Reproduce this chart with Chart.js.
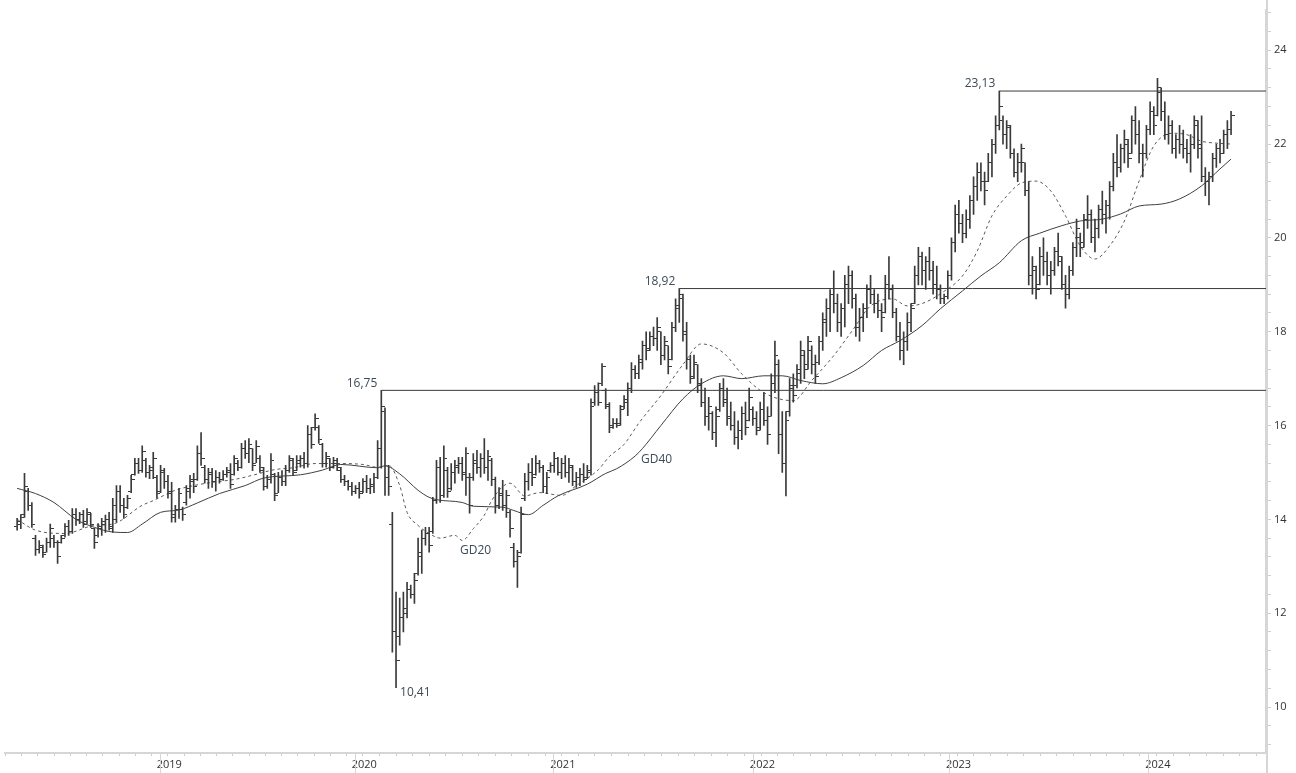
<!DOCTYPE html>
<html>
<head>
<meta charset="utf-8">
<script src="https://cdn.jsdelivr.net/npm/chart.js@4.4.1/dist/chart.umd.min.js"></script>
<style>
  html, body { margin: 0; padding: 0; background: #ffffff; }
  canvas { display: block; }
</style>
</head>
<body>
<canvas id="ohlcChart" width="1296" height="773"></canvas>
<script>
// weekly bars, index 0 = first week shown (spring 2018)
const highs = [
    14.02,14.1,14.98,14.66,14.36,13.66,13.55,13.45,13.6,13.9,13.66,13.55,13.66,13.91,13.98,14.23,14.23,14.15,14.19,14.23,14.13,13.81,13.91,14.02,14.09,14.15,14.45,
    14.72,14.72,14.45,14.51,14.94,15.3,15.3,15.57,15.3,15.15,15.43,14.94,15.15,15.09,14.94,14.79,14.3,14.66,14.26,14.72,14.94,14.98,15.57,15.85,15.15,15.09,15.09,15.04,
    15.0,15.04,15.11,15.19,15.36,15.26,15.62,15.68,15.72,15.51,15.68,15.36,15.11,14.94,15.4,14.98,15.0,15.04,15.15,15.36,15.3,15.36,15.36,15.43,16.0,15.96,16.25,16.0,
    15.62,15.43,15.3,15.32,15.3,15.11,14.94,14.83,14.79,14.72,14.79,14.87,14.94,14.87,14.98,15.68,16.75,16.38,15.15,14.15,12.45,12.32,12.45,12.66,12.6,12.85,13.6,13.77,
    13.83,13.83,14.47,15.26,15.32,15.57,15.11,15.19,15.26,15.32,15.32,15.53,14.98,15.4,15.47,15.4,15.72,15.47,15.3,14.9,14.68,14.83,14.62,14.19,13.49,13.34,14.26,14.98,15.19,
    15.3,15.36,15.26,15.15,15.0,15.21,15.43,15.32,15.3,15.36,15.3,15.15,15.0,15.09,15.19,15.15,16.57,16.85,16.91,17.32,16.79,16.49,16.15,16.15,16.43,16.64,16.91,17.34,17.28,
    17.5,17.8,18.0,18.0,18.1,18.3,18.0,17.9,17.7,18.2,
    18.7,18.92,18.8,18.2,17.5,17.5,17.3,17.0,16.8,16.6,
    16.3,16.4,16.9,17.0,16.8,16.5,16.3,16.1,16.4,16.5,
    16.8,16.4,16.3,16.5,16.7,16.4,17.1,17.8,17.4,16.3,
    16.3,17.0,17.1,17.3,17.8,17.6,17.9,17.7,17.5,17.9,
    18.4,18.7,18.9,19.3,18.8,18.6,19.2,19.4,19.3,18.8,
    18.5,18.6,19.0,19.2,18.9,18.8,18.6,19.2,19.6,19.0,
    18.5,18.2,18.0,18.4,18.6,19.4,19.8,19.7,19.6,19.8,
    19.5,19.4,19.0,18.8,19.3,20.0,20.7,20.8,20.5,20.6,
    20.9,21.3,21.6,21.6,21.4,21.8,22.1,22.6,23.13,22.6,
    22.5,22.4,21.9,21.8,22.0,21.6,21.2,19.6,19.4,19.8,
    20.0,19.7,19.5,19.8,20.1,19.6,19.2,19.4,19.9,20.4,
    20.1,20.5,20.9,20.6,20.4,20.7,21.0,20.8,21.2,21.8,
    22.2,22.0,22.3,22.1,22.6,22.8,22.5,22.0,22.4,22.9,
    22.8,23.4,23.2,22.9,22.6,22.5,22.2,22.4,22.3,22.1,
    22.2,22.6,22.5,22.6,21.5,21.4,21.8,22.0,22.1,22.3,
    22.5,22.7
];
const lows = [
    13.77,13.8,14.04,14.19,13.83,13.23,13.28,13.19,13.3,13.4,13.4,13.06,13.49,13.62,13.66,13.7,13.87,13.91,13.83,13.91,13.83,13.38,13.62,13.66,13.72,13.77,13.72,
    13.94,14.15,14.02,14.23,14.57,14.94,14.98,15.0,14.9,14.87,14.87,14.45,14.57,14.66,14.45,13.94,13.94,14.02,13.98,14.3,14.45,14.57,14.83,15.15,14.77,14.66,14.68,14.6,
    14.77,14.83,14.9,14.66,14.94,15.04,15.09,15.3,15.21,15.04,15.21,15.0,14.62,14.66,14.77,14.4,14.57,14.72,14.72,15.0,14.94,15.04,15.11,15.09,15.11,15.51,15.9,15.62,
    15.11,15.11,15.04,15.09,15.04,14.79,14.72,14.62,14.51,14.55,14.45,14.57,14.57,14.55,14.57,14.87,15.09,14.51,14.51,11.17,10.41,11.32,11.6,11.9,12.32,12.21,12.81,12.85,
    13.45,13.3,13.7,14.34,14.36,14.47,14.47,14.62,14.77,14.98,14.83,14.51,14.13,14.83,14.98,14.9,14.98,14.83,14.72,14.13,14.23,14.19,14.04,13.62,12.98,12.55,13.28,14.4,14.62,
    14.72,14.94,15.0,14.57,14.55,15.0,15.0,14.94,14.87,14.9,14.79,14.72,14.68,14.72,14.79,14.87,14.94,16.43,16.43,16.85,16.36,15.85,15.94,15.96,16.0,16.36,16.21,16.7,17.0,
    17.0,17.2,17.4,17.6,17.7,17.6,17.3,17.4,17.1,17.4,
    18.0,18.2,17.8,17.2,16.9,17.0,16.7,16.4,16.0,15.9,
    15.7,15.55,16.3,16.4,16.0,15.9,15.6,15.5,15.7,15.8,
    16.1,16.0,15.8,15.9,16.0,15.6,16.2,16.7,15.4,15.0,
    14.5,16.2,16.5,16.8,16.9,17.0,17.2,17.1,16.9,17.3,
    17.6,17.9,18.0,18.4,18.0,17.9,18.1,18.6,18.5,17.9,
    17.8,18.0,18.3,18.6,18.4,18.3,18.0,18.4,18.7,18.3,
    17.8,17.4,17.3,17.6,18.0,18.6,19.0,19.0,18.9,19.1,
    18.8,18.7,18.6,18.6,18.7,19.1,19.7,20.1,19.9,20.0,
    20.2,20.5,20.8,21.0,20.7,21.2,21.3,21.8,22.3,22.0,
    21.9,21.7,21.3,21.2,21.4,20.9,19.0,18.8,18.7,19.0,
    19.2,19.0,18.8,19.2,19.4,18.9,18.5,18.7,19.2,19.6,
    19.6,19.8,20.2,19.9,19.7,20.0,20.3,20.1,20.4,21.0,
    21.3,21.4,21.6,21.5,21.8,22.0,21.6,21.3,21.7,22.2,
    22.2,22.6,22.5,22.1,22.0,21.8,21.7,21.8,21.7,21.6,
    21.4,21.9,21.7,21.2,20.9,20.7,21.2,21.5,21.6,21.8,
    21.9,22.2
];
const opens = [
    13.85,13.9,14.1,14.6,14.3,13.6,13.35,13.4,13.3,13.5,13.6,13.5,13.5,13.65,13.85,13.75,14.1,14.0,14.1,13.95,14.1,13.8,13.65,13.8,13.9,14.0,13.8,
    14.0,14.6,14.3,14.25,14.6,14.95,15.2,15.05,15.25,15.0,15.05,14.9,14.6,15.0,14.8,14.6,14.05,14.2,14.2,14.35,14.6,14.8,14.85,15.4,15.1,14.85,14.95,14.8,
    14.9,14.85,14.95,15.0,14.95,15.2,15.1,15.5,15.4,15.5,15.2,15.3,15.05,14.7,14.85,14.95,14.55,14.9,14.8,15.05,15.25,15.05,15.2,15.3,15.2,15.8,15.95,15.95,
    15.6,15.2,15.3,15.1,15.2,15.05,14.85,14.8,14.7,14.6,14.65,14.6,14.8,14.65,14.7,14.9,15.5,16.3,14.9,13.9,11.6,11.5,11.9,12.1,12.5,12.4,12.85,13.2,
    13.6,13.7,13.75,14.4,15.1,14.5,15.05,14.65,15.0,15.1,15.2,15.0,14.9,14.9,15.2,15.1,15.3,15.1,15.25,14.85,14.3,14.5,14.3,14.15,13.4,13.1,13.3,14.45,14.8,
    15.0,14.95,15.2,15.1,14.7,15.05,15.15,15.3,15.0,15.2,15.0,15.1,14.8,14.9,14.95,14.9,15.0,16.5,16.7,16.9,16.75,16.4,16.0,16.05,16.05,16.4,16.5,16.8,17.2,
    17.1,17.35,17.7,17.65,17.9,17.85,18.0,17.5,17.7,17.4,
    18.1,18.5,18.7,18.0,17.4,17.05,17.3,16.9,16.5,16.2,
    16.25,15.85,16.35,16.8,16.5,16.2,16.0,15.75,15.9,16.25,
    16.1,16.35,16.15,15.95,16.35,16.1,16.2,16.9,17.3,15.8,
    15.2,16.3,16.8,16.85,17.1,17.5,17.3,17.6,17.3,17.35,
    17.8,18.2,18.5,18.8,18.6,18.2,18.5,19.0,19.2,18.7,
    18.1,18.3,18.5,18.9,18.8,18.6,18.45,18.4,19.0,18.9,
    18.4,17.9,17.6,17.8,18.2,18.6,19.2,19.6,19.3,19.5,
    19.3,19.0,18.9,18.7,18.75,19.2,19.9,20.5,20.3,20.1,
    20.4,20.8,21.1,21.4,21.2,21.2,21.6,22.0,22.4,22.5,
    22.2,22.35,21.8,21.4,21.6,21.6,21.0,19.2,19.3,19.0,
    19.6,19.5,19.2,19.3,19.7,19.5,19.0,18.8,19.3,19.8,
    20.0,19.9,20.4,20.5,20.0,20.2,20.6,20.5,20.7,21.1,
    21.6,21.5,21.9,22.0,21.8,22.5,22.2,21.8,21.8,22.3,
    22.7,22.6,23.1,22.7,22.2,22.4,21.9,22.1,22.0,21.9,
    21.8,22.0,22.4,22.0,21.3,21.2,21.3,21.7,21.9,21.8,
    22.2,22.3
];
const closes = [
    13.95,14.05,14.7,14.3,13.9,13.35,13.45,13.25,13.5,13.8,13.5,13.2,13.6,13.85,13.75,14.1,14.0,14.1,13.9,14.15,13.9,13.5,13.85,13.95,14.0,13.85,14.3,
    14.6,14.3,14.1,14.45,14.85,15.2,15.05,15.45,15.0,15.1,15.3,14.55,15.05,14.8,14.55,14.1,14.2,14.55,14.1,14.65,14.85,14.7,15.4,15.3,14.85,15.0,14.8,14.9,
    14.85,14.95,15.05,14.75,15.3,15.1,15.5,15.4,15.6,15.15,15.55,15.1,14.7,14.85,15.25,14.5,14.9,14.8,15.05,15.3,15.0,15.25,15.3,15.2,15.8,15.6,16.15,15.7,
    15.2,15.35,15.1,15.25,15.1,14.85,14.8,14.7,14.6,14.65,14.55,14.8,14.65,14.75,14.9,15.5,16.4,14.9,14.7,11.6,11.0,11.9,12.0,12.5,12.4,12.7,13.3,13.6,
    13.7,13.45,14.4,15.1,14.5,15.3,14.6,15.0,15.15,15.2,14.95,15.4,14.3,15.25,15.1,15.3,15.1,15.35,14.85,14.3,14.55,14.3,14.5,13.8,13.1,13.2,14.1,14.8,15.0,
    14.9,15.2,15.1,14.7,14.9,15.15,15.3,15.0,15.2,15.0,15.15,14.8,14.9,14.95,14.85,15.05,16.4,16.7,16.5,17.25,16.45,15.95,16.05,16.0,16.35,16.55,16.8,17.2,17.1,
    17.4,17.7,17.6,17.9,17.85,18.1,17.5,17.8,17.25,18.1,
    18.55,18.8,17.95,17.4,17.0,17.35,16.85,16.5,16.2,16.4,
    15.85,16.2,16.8,16.55,16.15,16.0,15.75,15.9,16.25,15.95,
    16.6,16.15,15.9,16.35,16.1,15.8,16.9,17.5,15.8,15.2,
    16.1,16.85,16.65,17.2,17.6,17.2,17.8,17.3,17.05,17.8,
    18.25,18.5,18.8,18.6,18.2,18.5,19.0,19.2,18.7,18.1,
    18.3,18.5,18.9,18.8,18.6,18.45,18.3,19.0,18.9,18.4,
    17.9,17.6,17.8,18.2,18.5,19.2,19.6,19.3,19.5,19.3,
    19.0,18.9,18.7,18.75,19.2,19.9,20.5,20.3,20.1,20.4,
    20.8,21.1,21.4,21.2,21.0,21.6,22.0,22.4,22.8,22.2,
    22.4,21.8,21.4,21.6,21.9,21.0,19.2,19.4,18.9,19.6,
    19.5,19.2,19.3,19.7,19.6,19.0,18.8,19.3,19.8,20.2,
    19.8,20.4,20.5,20.0,20.2,20.6,20.5,20.7,21.1,21.6,
    21.5,21.9,22.1,21.7,22.5,22.2,21.8,21.8,22.3,22.7,
    22.4,23.2,22.7,22.2,22.4,21.9,22.1,22.0,21.9,21.8,
    22.0,22.5,21.9,21.3,21.2,21.3,21.7,21.9,21.8,22.2,
    22.3,22.6
];

// moving averages (bar index, value)
const gd40Idx = [0,5,10,16,21,26,30,34,39,44,49,55,62,67,77,83,88,98,100,104,109,112,114,121,124,132,135,139,143,147,155,160,163,168,170,175,181,186,192,197,203,208,213,219,224,230,235,240,246,251,257,262,267,273,278,284,289,295,300,305,311,316,322,327,330];
const gd40Values = [14.66,14.55,14.36,14.0,13.83,13.73,13.72,13.9,14.15,14.2,14.35,14.55,14.72,14.88,14.95,15.05,15.17,15.1,15.14,14.97,14.62,14.47,14.42,14.36,14.28,14.26,14.19,14.1,14.3,14.5,14.75,14.98,15.08,15.35,15.51,16.0,16.57,16.89,17.06,17.0,17.06,17.06,16.96,16.89,17.02,17.28,17.6,17.81,18.13,18.49,18.87,19.19,19.47,19.94,20.1,20.26,20.36,20.4,20.51,20.68,20.72,20.83,21.11,21.47,21.68];
const gd20Idx = [0,5,13,21,26,34,37,43,48,54,59,64,70,75,81,87,94,98,101,104,106,109,112,115,119,121,124,127,129,132,134,138,142,148,152,158,161,165,169,175,181,186,192,197,203,211,216,222,227,232,238,242,246,251,257,261,265,269,273,277,281,285,289,293,297,301,305,309,314,318,322,326,330];
const gd20Values = [14.0,13.77,13.7,13.87,13.9,14.3,14.4,14.62,14.72,14.8,14.85,14.94,15.06,15.1,15.19,15.19,15.17,15.11,15.15,14.72,14.15,13.87,13.7,13.6,13.66,13.55,13.8,14.09,14.4,14.7,14.77,14.5,14.57,14.51,14.72,15.06,15.34,15.6,16.05,16.64,17.3,17.74,17.55,17.1,16.7,16.53,16.96,17.49,18.02,18.55,18.7,18.55,18.6,18.81,19.19,19.72,20.47,20.89,21.17,21.21,21.0,20.47,19.83,19.55,19.83,20.36,21.21,21.96,22.23,22.2,22.06,22.02,22.0];

// horizontal high marks and the low mark
const levelIdx = [99, 180, 267];
const levelValues = [16.75, 18.92, 23.13];
const lowMarkIdx = 103;
const lowMarkValue = 10.41;

// axis labels
const yearLabels = ["2019", "2020", "2021", "2022", "2023", "2024"];
const yearTickIdx = [38.75, 91.75, 145.75, 200, 253.3, 307.5];
const yLabelValues = [10, 11, 12, 13, 14, 15, 16, 17, 18, 19, 20, 21, 22, 23, 24];

const X_MIN = -3.3, X_MAX = 339.5;
const Y_MIN = 9.02, Y_MAX = 24.866;
const BAR_COLOR = "#3a3a3a";
const TEXT_COLOR = "#3d4a58";
const AXIS_COLOR = "#d6d6d6";

function makeTick(side) {
    const c = document.createElement("canvas");
    c.width = 7;
    c.height = 1;
    const g = c.getContext("2d");
    g.fillStyle = BAR_COLOR;
    g.fillRect(side === "left" ? 0 : 4, 0, 3, 1);
    return c;
}

function fmt(v) {
    return v.toFixed(2).replace(".", ",");
}

function monthTicks() {
    const ticks = [];
    const step0 = (yearTickIdx[1] - yearTickIdx[0]) / 12;
    for (let v = yearTickIdx[0] - step0; v > X_MIN; v -= step0) ticks.push(v);
    for (let k = 0; k < yearTickIdx.length - 1; k++) {
        const a = yearTickIdx[k], b = yearTickIdx[k + 1];
        for (let m = 0; m < 12; m++) ticks.push(a + (b - a) * m / 12);
    }
    const last = yearTickIdx[yearTickIdx.length - 1];
    const stepN = (last - yearTickIdx[yearTickIdx.length - 2]) / 12;
    for (let v = last; v < X_MAX; v += stepN) ticks.push(v);
    return ticks.sort((a, b) => a - b);
}

const annotations = {
    id: "annotations",
    afterDraw(chart) {
        const { ctx, chartArea } = chart;
        const x = chart.scales.x, y = chart.scales.y;
        ctx.save();

        // long year ticks below the axis
        ctx.strokeStyle = AXIS_COLOR;
        ctx.lineWidth = 1;
        yearTickIdx.forEach(v => {
            const px = Math.round(x.getPixelForValue(v)) + 0.5;
            ctx.beginPath();
            ctx.moveTo(px, chartArea.bottom);
            ctx.lineTo(px, chart.height);
            ctx.stroke();
        });
        // right axis line runs down to the bottom edge
        ctx.lineWidth = 2;
        ctx.beginPath();
        ctx.moveTo(chartArea.right + 1, 0);
        ctx.lineTo(chartArea.right + 1, chart.height);
        ctx.stroke();

        ctx.font = '12px "Open Sans", sans-serif';
        ctx.fillStyle = TEXT_COLOR;
        ctx.textBaseline = "middle";

        ctx.textAlign = "right";
        levelIdx.forEach((idx, k) => {
            ctx.fillText(fmt(levelValues[k]),
                x.getPixelForValue(idx) - 4,
                y.getPixelForValue(levelValues[k]) - 7);
        });

        ctx.textAlign = "left";
        ctx.fillText(fmt(lowMarkValue),
            x.getPixelForValue(lowMarkIdx) + 4,
            y.getPixelForValue(lowMarkValue) + 5);

        ctx.fillText("GD20", x.getPixelForValue(120.4), y.getPixelForValue(13.34));
        ctx.fillText("GD40", x.getPixelForValue(169.6), y.getPixelForValue(15.28));
        ctx.restore();
    }
};

const lineStyle = {
    type: "line",
    pointRadius: 0,
    borderWidth: 1,
    fill: false,
    cubicInterpolationMode: "monotone",
};

const datasets = [
    {
        type: "bar",
        data: highs.map((h, i) => ({ x: i, y: [lows[i], h] })),
        backgroundColor: BAR_COLOR,
        barThickness: 1,
        order: 2,
    },
    {
        type: "scatter",
        data: opens.map((o, i) => ({ x: i, y: o })),
        pointStyle: makeTick("left"),
        pointRadius: 3,
        order: 1,
    },
    {
        type: "scatter",
        data: closes.map((c, i) => ({ x: i, y: c })),
        pointStyle: makeTick("right"),
        pointRadius: 3,
        order: 1,
    },
    {
        ...lineStyle,
        data: gd20Idx.map((v, i) => ({ x: v, y: gd20Values[i] })),
        borderColor: "#5a5a5a",
        borderDash: [3, 3],
        order: 3,
    },
    {
        ...lineStyle,
        data: gd40Idx.map((v, i) => ({ x: v, y: gd40Values[i] })),
        borderColor: "#3f3f3f",
        order: 3,
    },
];

levelIdx.forEach((idx, k) => {
    datasets.push({
        type: "line",
        data: [{ x: idx, y: levelValues[k] }, { x: X_MAX, y: levelValues[k] }],
        borderColor: "#3a3a3a",
        borderWidth: 1,
        pointRadius: 0,
        order: 4,
    });
});

const ctx = document.getElementById("ohlcChart").getContext("2d");
new Chart(ctx, {
    type: "bar",
    data: { datasets: datasets },
    plugins: [annotations],
    options: {
        responsive: false,
        animation: false,
        devicePixelRatio: 1,
        layout: { padding: { top: 2, left: 0, right: 0, bottom: 0 } },
        plugins: {
            legend: { display: false },
            tooltip: { enabled: false },
        },
        scales: {
            x: {
                type: "linear",
                min: X_MIN,
                max: X_MAX,
                offset: false,
                afterFit: (scale) => { scale.height = 20; },
                afterBuildTicks: (scale) => {
                    scale.ticks = monthTicks().map(v => ({ value: v }));
                },
                grid: {
                    drawOnChartArea: false,
                    tickLength: 3,
                    color: "#cccccc",
                },
                border: { display: true, color: AXIS_COLOR, width: 2 },
                ticks: {
                    autoSkip: false,
                    maxRotation: 0,
                    align: "start",
                    labelOffset: -3,
                    padding: 2,
                    color: "#333333",
                    font: { family: "Open Sans", size: 11 },
                    callback: (value) => {
                        const k = yearTickIdx.findIndex(t => Math.abs(t - value) < 1e-6);
                        return k >= 0 ? yearLabels[k] : "";
                    },
                },
            },
            y: {
                position: "right",
                min: Y_MIN,
                max: Y_MAX,
                afterFit: (scale) => { scale.width = 30; },
                afterBuildTicks: (scale) => {
                    const ticks = [];
                    for (let k = 46; k <= 124; k++) ticks.push({ value: k / 5 });
                    scale.ticks = ticks;
                },
                grid: {
                    drawOnChartArea: false,
                    tickLength: 5,
                    color: "#cfcfcf",
                },
                border: { display: true, color: AXIS_COLOR, width: 2 },
                ticks: {
                    padding: 3,
                    color: "#333333",
                    font: { family: "Open Sans", size: 11 },
                    callback: (value) => {
                        const k = yLabelValues.findIndex(t => Math.abs(t - value) < 1e-6);
                        return k >= 0 ? String(yLabelValues[k]) : "";
                    },
                },
            },
        },
    },
});
</script>
</body>
</html>
